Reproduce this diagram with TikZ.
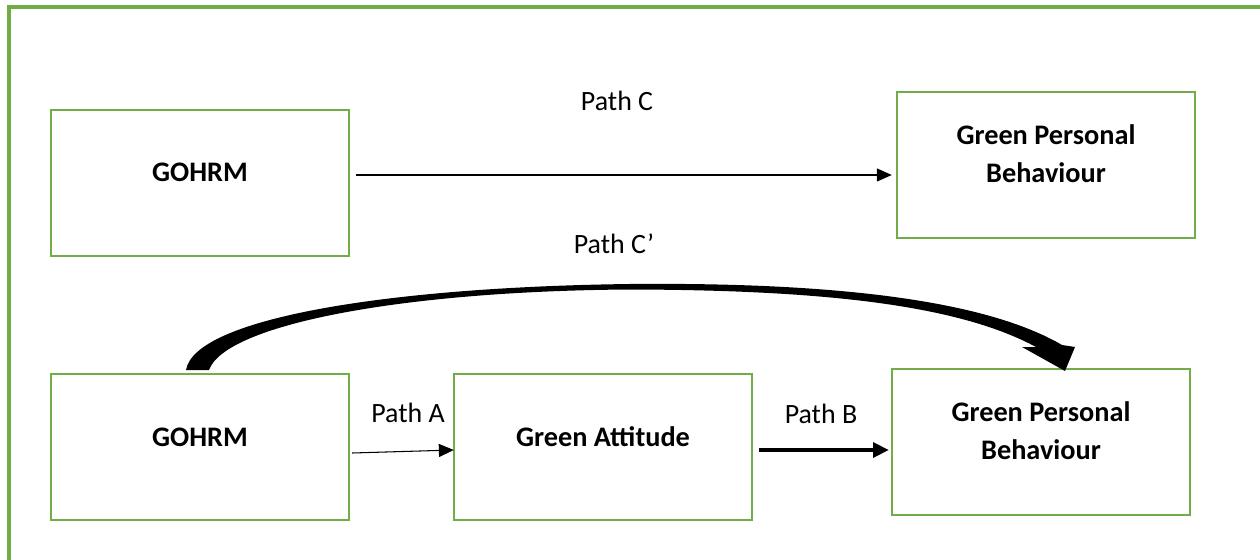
\documentclass[tikz,border=0pt]{standalone}
\usepackage{fontspec}
\setmainfont{Carlito}
\usetikzlibrary{arrows.meta,calc}
\definecolor{officegreen}{RGB}{112,173,71}
\tikzset{
  box/.style={draw=officegreen, line width=1.4pt, minimum width=5.96cm, minimum height=2.92cm, inner sep=0pt},
  boxtext/.style={font=\fontsize{16.1}{21.5}\selectfont\bfseries, align=center},
  pathlabel/.style={font=\fontsize{15.9}{19}\selectfont},
  thinarrow/.style={line width=0.6pt, -{Triangle[length=8.5pt,width=7.4pt]}},
  thickarrow/.style={line width=2pt, -{Triangle[length=9pt,width=8.5pt]}}
}
\begin{document}
\begin{tikzpicture}[x=0.02cm,y=-0.02cm]
   \useasboundingbox (0,0) rectangle (1260,560);
   \clip (0,0) rectangle (1260,560);
   % frame
   \draw[officegreen, line width=2pt] (9,580) -- (9,7) -- (1280,7);

   % top row
   \node[box] (gohrmT) at (200,183) {};
   \node[boxtext] (gohrmTtext) at (200,172) {GOHRM};
   \node[box] (behavT) at (1046,165) {};
   \node[boxtext] (behavTtext) at (1046,154) {Green Personal\\Behaviour};
   \draw[thinarrow] ($(gohrmT.east)+(6,-8)$) -- ($(behavT.west)+(-4,10)$);
   \node[pathlabel] (pathC) at (617,101) {Path C};

   % bottom row
   \node[box] (gohrmB) at (200,447) {};
   \node[boxtext] (gohrmBtext) at (200,437) {GOHRM};
   \node[box] (attitude) at (603,447) {};
   \node[boxtext] (attitudetext) at (603,437) {Green Attitude};
   \node[box] (behavB) at (1041,442) {};
   \node[boxtext] (behavBtext) at (1041,431) {Green Personal\\Behaviour};
   \draw[thinarrow] ($(gohrmB.east)+(2,6)$) -- ($(attitude.west)+(1,3)$);
   \node[pathlabel] (pathA) at (408,413) {Path A};
   \draw[thickarrow] ($(attitude.east)+(6,3)$) -- ($(behavB.west)+(-2,8)$);
   \node[pathlabel] (pathB) at (821,414) {Path B};

   % curved block arrow
   \fill (186,370) .. controls (195,318) and (390,287) .. (630,284)
     .. controls (850,282) and (990,303) .. (1062,345)
     -- (1075,347) -- (1065,371) -- (1022,347) -- (1036,347)
     .. controls (960,306) and (830,290) .. (630,289.5)
     .. controls (400,291) and (225,325) .. (209,370) -- cycle;
   \node[pathlabel] (pathCprime) at (614,244) {Path C’};
\end{tikzpicture}
\end{document}
